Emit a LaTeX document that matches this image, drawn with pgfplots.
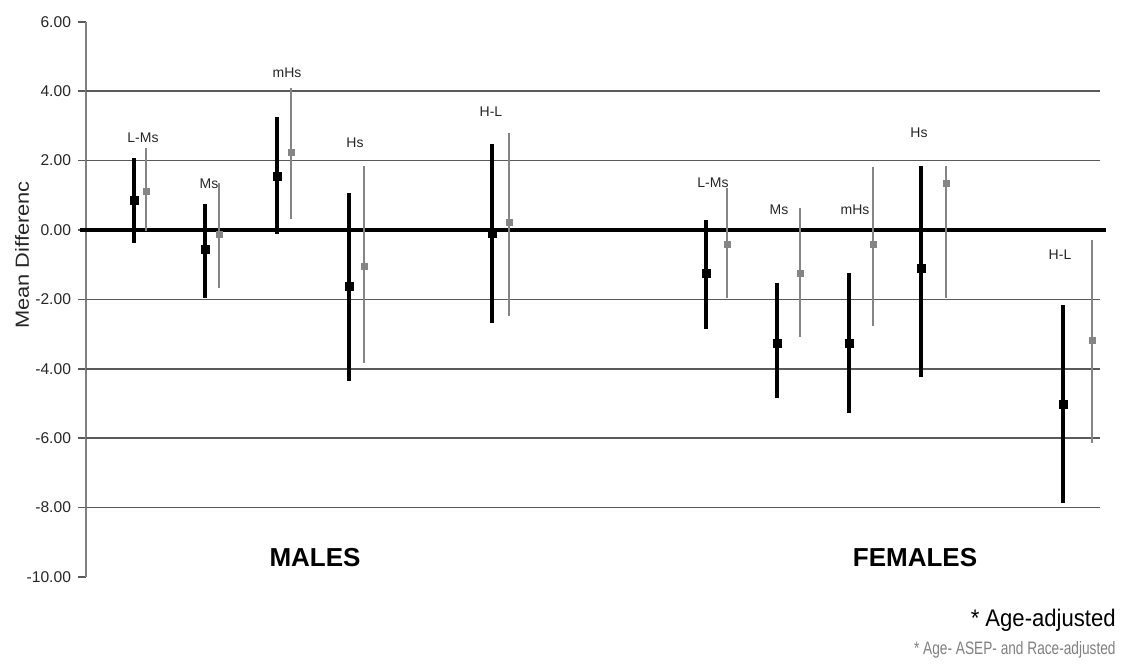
\documentclass[border=0pt]{standalone}
\usepackage{pgfplots}
\usepackage{pgfplotstable}
\usepackage{fontspec}
\pgfplotsset{compat=1.18}
\setmainfont{Liberation Sans}
\newfontfamily\narrowfont{Liberation Sans}[FakeStretch=0.76]
\newfontfamily\semifont{Liberation Sans}[FakeStretch=0.92]
\newfontfamily\widefont{Liberation Sans}[FakeStretch=1.15]

\definecolor{adjgray}{HTML}{858585}
\definecolor{gridgray}{HTML}{5A5A5A}

% x: horizontal position of each estimate, m: mean difference, lo/hi: interval
\pgfplotstableread{
x     m      lo     hi
134   0.84  -0.37   2.07
205  -0.55  -1.96   0.75
277   1.53  -0.12   3.26
349  -1.64  -4.35   1.07
492  -0.09  -2.68   2.48
706  -1.24  -2.85   0.29
777  -3.26  -4.84  -1.53
849  -3.26  -5.27  -1.24
921  -1.12  -4.24   1.84
1063 -5.04  -7.87  -2.16
}\ageadj

\pgfplotstableread{
x     m      lo     hi
146   1.12  -0.03   2.36
219  -0.12  -1.67   1.35
291   2.25   0.32   4.09
364  -1.04  -3.83   1.84
509   0.23  -2.48   2.80
727  -0.43  -1.96   1.21
800  -1.24  -3.08   0.63
873  -0.43  -2.77   1.82
946   1.33  -1.96   1.84
1092 -3.17  -6.14  -0.29
}\fulladj

\begin{document}
\begin{tikzpicture}
\begin{axis}[
  scale only axis,
  width=507pt, height=277.5pt,
  xmin=86, xmax=1100, ymin=-10, ymax=6,
  clip=false,
  axis lines*=left,
  x axis line style={draw=none},
  y axis line style={draw=gray, line width=1pt},
  xtick=\empty,
  ytick={-10,-8,...,6},
  ytick style={draw=gridgray, line width=0.8pt},
  tick align=outside,
  major tick length=4pt,
  yticklabel style={font=\fontsize{7.8}{9}\selectfont, text=black!85},
  /pgf/number format/.cd, fixed, fixed zerofill, precision=2, assume math mode=true,
]
% horizontal reference lines
\pgfplotsinvokeforeach{-8,-6,-4,-2,2,4}{
  \draw[gridgray, line width=0.8pt] (axis cs:86,#1) -- (axis cs:1100,#1);
}
\draw[black, line width=2.4pt] (axis cs:80,0) -- (axis cs:1106,0);

% Age-, ASEP- and race-adjusted estimates
\addplot[only marks, mark=square*, mark size=1.5pt, color=adjgray,
  error bars/.cd, y dir=both, y explicit, error mark=none,
  error bar style={line width=1pt, adjgray}]
  table[x=x, y=m, y error plus expr=\thisrow{hi}-\thisrow{m},
        y error minus expr=\thisrow{m}-\thisrow{lo}] {\fulladj};

% Age-adjusted estimates
\addplot[only marks, mark=square*, mark size=2pt, color=black,
  error bars/.cd, y dir=both, y explicit, error mark=none,
  error bar style={line width=2pt, black}]
  table[x=x, y=m, y error plus expr=\thisrow{hi}-\thisrow{m},
        y error minus expr=\thisrow{m}-\thisrow{lo}] {\ageadj};

% group labels
\begin{scope}[every node/.style={font=\fontsize{7}{8}\selectfont, text=black!85, inner sep=0pt}]
\node at (axis cs:143,2.66) {L-Ms};
\node at (axis cs:209,1.33) {Ms};
\node at (axis cs:287,4.53) {mHs};
\node at (axis cs:355,2.51) {Hs};
\node at (axis cs:491,3.40) {H-L};
\node at (axis cs:713,1.36) {L-Ms};
\node at (axis cs:779,0.58) {Ms};
\node at (axis cs:855,0.58) {mHs};
\node at (axis cs:919,2.80) {Hs};
\node at (axis cs:1060,-0.72) {H-L};
\end{scope}

\node[font=\fontsize{13}{15}\selectfont\bfseries] at (axis cs:315,-9.43) {MALES};
\node[font=\fontsize{13}{15}\selectfont\bfseries] at (axis cs:915,-9.43) {FEMALES};

\node[rotate=90, font=\widefont\fontsize{9.5}{11}\selectfont, text=black!85] at (axis cs:22,-0.72) {Mean Differenc};

\node[anchor=east, inner sep=0pt, font=\semifont\fontsize{12}{14}\selectfont] at (axis cs:1116,-11.24) {* Age-adjusted};
\node[anchor=east, inner sep=0pt, font=\narrowfont\fontsize{9}{11}\selectfont, text=gray] at (axis cs:1116,-12.11) {* Age- ASEP- and Race-adjusted};

\path (axis cs:0,6.63) rectangle (axis cs:1134,-12.71);
\end{axis}
\end{tikzpicture}
\end{document}
